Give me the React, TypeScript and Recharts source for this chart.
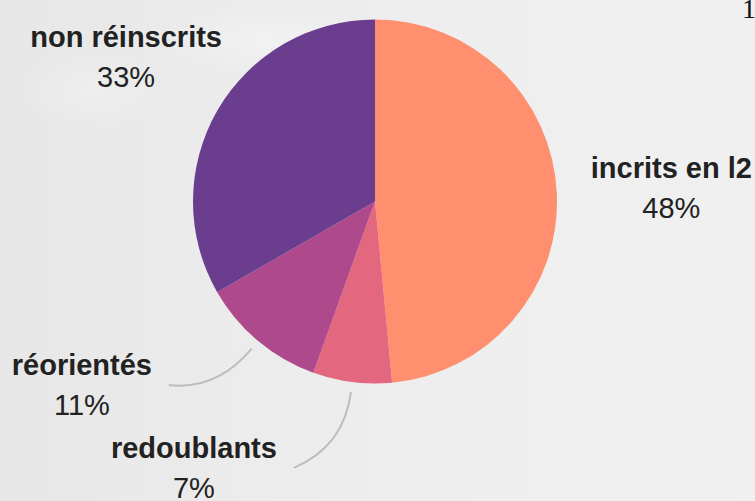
import { Pie, PieChart, Cell } from 'recharts';

const categories = ['incrits en l2', 'redoublants', 'réorientés', 'non réinscrits'];
const shares = [48.5, 7.0, 11.2, 33.3];
const shareLabels = ['48%', '7%', '11%', '33%'];

const colors = ['#FF8F6E', '#E2677F', '#AE4A8C', '#6A3D8F'];

// label placement: distance (× outer radius), angular shift from the slice middle,
// and the leader line end offset (0 = no leader)
const labelLayout = [
  { k: 1.63, shift: 0, lineDx: 0 },
  { k: 1.77, shift: -27, lineDx: 100 },
  { k: 1.9, shift: -18, lineDx: 87 },
  { k: 1.58, shift: 0, lineDx: 0 },
];

const data = categories.map((name, i) => ({ name, value: shares[i] }));

const RAD = Math.PI / 180;
const polar = (cx: number, cy: number, r: number, a: number) => ({
  x: cx + Math.cos(-a * RAD) * r,
  y: cy + Math.sin(-a * RAD) * r,
});

function SliceLabel(props: any) {
  const { cx, cy, midAngle, outerRadius, index } = props;
  const lay = labelLayout[index];
  const anchor = polar(cx, cy, outerRadius * lay.k, midAngle + lay.shift);
  let line = null;
  if (lay.lineDx) {
    const start = polar(cx, cy, outerRadius + 10, midAngle);
    const ctrl = polar(cx, cy, outerRadius + 65, midAngle);
    const endX = anchor.x + lay.lineDx;
    const endY = anchor.y;
    line = (
      <path
        d={`M${start.x},${start.y} Q${ctrl.x},${ctrl.y} ${endX},${endY}`}
        fill="none"
        stroke="#bdbdbd"
        strokeWidth={2}
      />
    );
  }
  return (
    <g>
      {line}
      <text
        x={anchor.x}
        y={anchor.y - 10}
        textAnchor="middle"
        fill="#222"
        fontSize={29}
        fontWeight={700}
        fontFamily="'Liberation Sans', Arial, sans-serif"
      >
        {categories[index]}
      </text>
      <text
        x={anchor.x}
        y={anchor.y + 30}
        textAnchor="middle"
        fill="#222"
        fontSize={29}
        fontFamily="'Liberation Sans', Arial, sans-serif"
      >
        {shareLabels[index]}
      </text>
    </g>
  );
}

export default function App() {
  return (
    <div
      style={{
        position: 'absolute',
        left: 0,
        top: 0,
        width: 755,
        height: 501,
        overflow: 'hidden',
        background:
          'radial-gradient(ellipse 110px 60px at 90px 90px, rgba(255,255,255,0.25), rgba(255,255,255,0) 70%),' +
          'radial-gradient(ellipse 160px 50px at 260px 40px, rgba(255,255,255,0.3), rgba(255,255,255,0) 70%),' +
          'linear-gradient(90deg, #e7e7e7 0%, #ececec 35%, #efefef 70%, #f0f0f0 100%)',
      }}
    >
      <div
        style={{
          position: 'absolute',
          left: 742,
          top: -7,
          lineHeight: 'normal',
          fontFamily: "'Liberation Serif', serif",
          fontSize: 28,
          color: '#111',
        }}
      >
        1
      </div>
      <PieChart width={755} height={501} margin={{ top: 0, right: 0, bottom: 0, left: 0 }}>
        <Pie
          data={data}
          dataKey="value"
          nameKey="name"
          cx={375}
          cy={201.5}
          outerRadius={182}
          startAngle={90}
          endAngle={-270}
          stroke="none"
          labelLine={false}
          label={SliceLabel}
          isAnimationActive={false}
        >
          {data.map((d, i) => (
            <Cell key={d.name} fill={colors[i]} />
          ))}
        </Pie>
      </PieChart>
    </div>
  );
}
